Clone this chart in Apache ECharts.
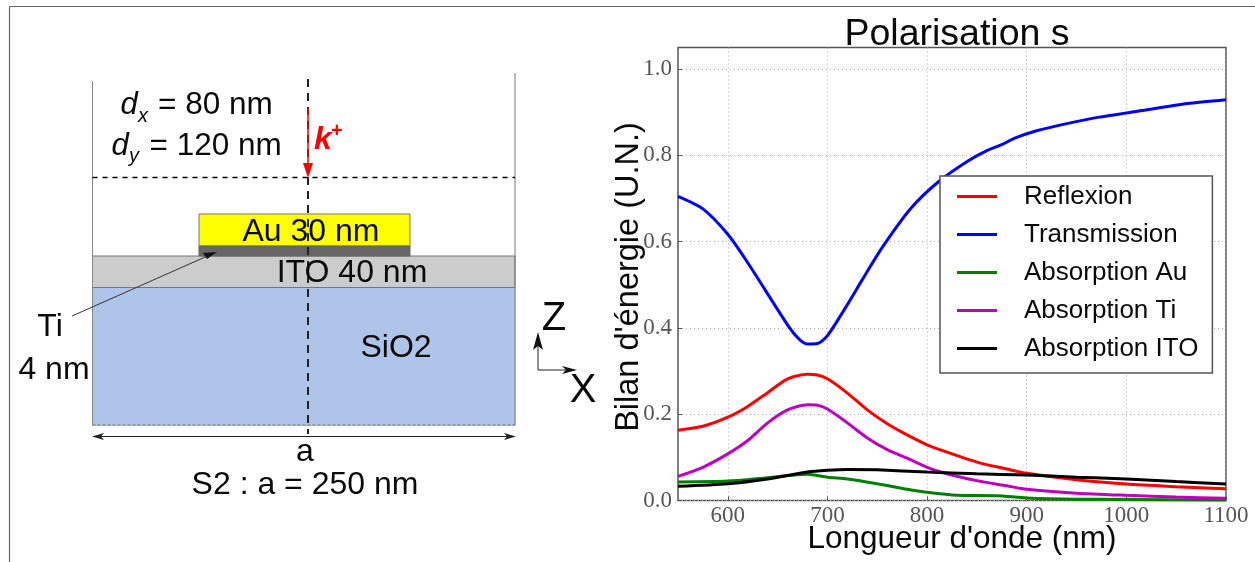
<!DOCTYPE html>
<html><head><meta charset="utf-8">
<style>html,body{margin:0;padding:0;background:#fff}#c{width:1255px;height:562px}</style>
<script src="https://cdn.jsdelivr.net/npm/echarts@6/dist/echarts.min.js"></script>
</head><body><div id="c"></div>
<script>
const xTicks = [600,700,800,900,1000,1100];
const yTicks = [0,0.2,0.4,0.6,0.8,1.0];
const seriesNames = ['Reflexion','Transmission','Absorption Au','Absorption Ti','Absorption ITO'];
const reflexion = [[550,.163],[575,.172],[600,.193],[620,.218],[640,.25],[660,.282],[680,.2925],[690,.291],[700,.282],[720,.249],[740,.21],[760,.178],[780,.152],[800,.129],[820,.112],[850,.089],[880,.073],[900,.063],[950,.048],[1000,.038],[1050,.032],[1100,.027]];
const transmission = [[550,.705],[575,.676],[600,.617],[620,.551],[662,.4],[672,.373],[680,.363],[690,.364],[700,.382],[720,.454],[735,.512],[756,.59],[784,.678],[812,.74],[841,.787],[859,.81],[876,.826],[888,.84],[910,.857],[939,.873],[971,.888],[1016,.904],[1061,.92],[1100,.929]];
const absAu = [[550,.043],[600,.045],[640,.053],[680,.061],[700,.054],[720,.05],[750,.039],[780,.026],[800,.019],[830,.012],[870,.011],[900,.006],[950,.003],[1000,.0025],[1100,.001]];
const absTi = [[550,.056],[575,.077],[600,.108],[620,.139],[640,.18],[660,.21],[680,.222],[690,.221],[700,.212],[720,.18],[740,.145],[760,.118],[780,.098],[800,.077],[820,.062],[850,.046],[880,.034],[900,.026],[950,.017],[1000,.012],[1050,.008],[1100,.005]];
const absITO = [[550,.033],[600,.039],[640,.05],[680,.066],[700,.07],[720,.072],[750,.071],[800,.066],[850,.062],[900,.059],[950,.054],[1000,.05],[1050,.044],[1100,.038]];
const seriesData = [reflexion,transmission,absAu,absTi,absITO];
const colors = ['#ff0000','#0000ff','#008000','#bf00bf','#000000'];

const sans = '"Liberation Sans"';
function txt(s,x,y,size,o){o=o||{};return {type:'text',x:x,y:y,z:o.z||20,style:{text:s,fill:o.fill||'#0a0a0a',
  font:(o.style||'')+' '+size+'px '+sans,textAlign:o.align||'center',textVerticalAlign:'middle'}};}
function rect(x,y,w,h,fill,stroke){return {type:'rect',z:2,shape:{x:x,y:y,width:w,height:h},style:{fill:fill,stroke:stroke||'#777',lineWidth:1}};}
function line(x1,y1,x2,y2,o){o=o||{};return {type:'line',z:o.z||5,shape:{x1:x1,y1:y1,x2:x2,y2:y2},
  style:{stroke:o.stroke||'#000',lineWidth:o.w||1,lineDash:o.dash||null}};}
function head(p,fill){return {type:'polygon',z:6,shape:{points:p},style:{fill:fill||'#000'}};}

const diagram = [
  line(9.5,6.5,9.5,562,{stroke:'#666',w:1.2}), line(9.5,6.5,1255,6.5,{stroke:'#666',w:1.2}),
  rect(92.5,287.5,422.5,138,'#aec4e8','#aec4e8'),
  rect(92.5,256,422.5,31.5,'#cccccc'),
  rect(199,214,211,32,'#ffff00'),
  rect(199,246,211,10,'#666666','#666666'),
  line(92.5,81,92.5,425,{stroke:'#888'}), line(515,73,515,425,{stroke:'#777'}),
  line(92.5,425,515,425,{stroke:'#777',dash:[3,2]}),
  line(92.5,177.5,515,177.5,{dash:[5,5],w:1.5}),
  line(308,79,308,434,{dash:[8,6],w:2,stroke:'#222'}),
  line(308,108,308,170,{stroke:'#ff0000',w:1.5}), head([[303,163],[313,163],[308,178],[308,178]],'#ff0000'),
  line(93,436.5,514,436.5,{stroke:'#222'}), head([[92,436.5],[104,433],[101,436.5],[104,440]],'#222'), head([[516,436.5],[504,433],[507,436.5],[504,440]],'#222'),
  line(72,316,212,254,{stroke:'#333'}), head([[217,252],[203,253],[207,259]],'#111'),
  line(538,370,538,340,{stroke:'#222'}), head([[538,332],[533,350],[538,346],[543,350]],'#111'),
  line(538,370,570,370,{stroke:'#222'}), head([[577,370],[562,366],[566,370],[562,374]],'#111'),
  txt('d',120.5,105,31,{align:'left',style:'italic'}), txt('x',138,116,20,{align:'left',style:'italic'}), txt('= 80 nm',158,105,31.5,{align:'left'}),
  txt('d',111.5,146,31,{align:'left',style:'italic'}), txt('y',129,156,20,{align:'left',style:'italic'}), txt('= 120 nm',149.5,146,31.5,{align:'left'}),
  txt('k',314,140,32,{align:'left',style:'italic bold',fill:'#ff0000'}), txt('+',331,131,20,{align:'left',style:'bold',fill:'#ff0000'}),
  txt('Au 30 nm',311,232,32), txt('ITO 40 nm',352,273,32), txt('SiO2',396,348,32),
  txt('Ti',50,327,32), txt('4 nm',54,370,32), txt('a',305,452,32), txt('S2 : a = 250 nm',305,485,32),
  txt('Z',554,319,40), txt('X',583,391,40)
];

const chart = echarts.init(document.getElementById('c'),null,{renderer:'canvas'});
chart.setOption({
  animation:false, backgroundColor:'#fff',
  graphic:{elements:diagram},
  title:{text:'Polarisation s',left:952,top:11,textAlign:'center',textStyle:{fontFamily:sans,fontSize:37.5,fontWeight:'normal',color:'#0a0a0a'}},
  grid:{left:678,right:29,top:47.5,bottom:61.5,outerBoundsMode:'none',show:true,borderColor:'#555',borderWidth:1.5,backgroundColor:'transparent'},
  xAxis:{type:'value',min:550,max:1100,name:"Longueur d'onde (nm)",nameLocation:'middle',nameGap:39,nameMoveOverlap:false,
    nameTextStyle:{fontFamily:sans,fontSize:31.5,color:'#0a0a0a',verticalAlign:'middle',padding:[0,0,0,20]},
    axisLine:{show:false},
    axisTick:{inside:true,length:4,customValues:xTicks,lineStyle:{color:'#555'}},
    axisLabel:{customValues:xTicks,fontFamily:'"Liberation Serif"',fontSize:23,color:'#555',margin:4,hideOverlap:false,formatter:v=>String(v)},
    splitLine:{show:true,lineStyle:{color:'#aaa',type:[1,3],width:1}}},
  yAxis:{type:'value',min:0,max:1.05,name:"Bilan d'énergie (U.N.)",nameLocation:'middle',nameGap:49,nameMoveOverlap:false,
    nameTextStyle:{fontFamily:sans,fontSize:32.5,color:'#0a0a0a',verticalAlign:'middle',padding:[0,6,0,0]},
    axisLine:{show:false},
    axisTick:{inside:true,length:4,customValues:yTicks,lineStyle:{color:'#555'}},
    axisLabel:{customValues:yTicks,fontFamily:'"Liberation Serif"',fontSize:23,color:'#555',margin:6,formatter:v=>v.toFixed(1)},
    splitLine:{show:true,lineStyle:{color:'#aaa',type:[1,3],width:1}}},
  legend:{left:940,top:176,orient:'vertical',itemWidth:40,itemHeight:3,itemGap:11,
    padding:[7,14,11,17],backgroundColor:'#fff',borderColor:'#555',borderWidth:1.5,borderRadius:0,
    data:seriesNames.map(n=>({name:n,icon:'rect'})),
    textStyle:{fontFamily:sans,fontSize:26,color:'#0a0a0a',padding:[0,0,0,22],lineHeight:27}},
  series:seriesNames.map((n,i)=>({name:n,type:'line',data:seriesData[i],symbol:'none',showSymbol:false,smooth:0.25,
    clip:true,lineStyle:{color:colors[i],width:3},itemStyle:{color:colors[i]}}))
});
</script></body></html>
